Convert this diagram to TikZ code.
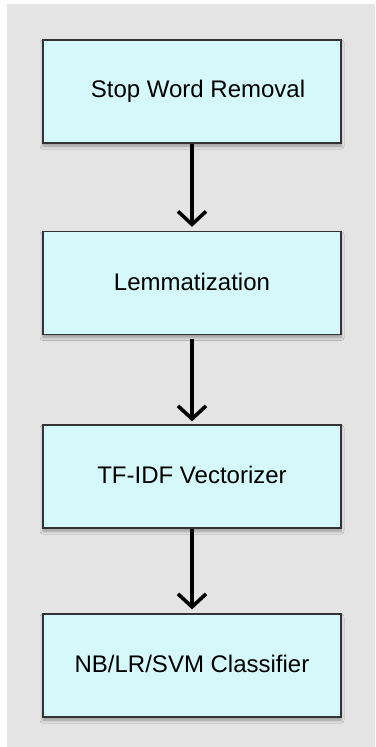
\documentclass[tikz,border=0pt]{standalone}
\usepackage{fontspec}
\setmainfont{Liberation Sans}
\usetikzlibrary{arrows.meta,shadows.blur}
\definecolor{panelgray}{HTML}{E4E4E4}
\definecolor{boxfill}{HTML}{D5F9FA}
\definecolor{boxline}{HTML}{333333}
\tikzset{
  stage/.style={draw=boxline, line width=1.3pt, fill=boxfill,
    minimum width=298pt, minimum height=103pt, inner sep=0pt,
    font=\fontsize{24}{28}\selectfont,
    blur shadow={shadow xshift=0pt, shadow yshift=-3pt, shadow blur steps=6,
      shadow blur radius=3pt, shadow opacity=35}},
  flow/.style={draw=black, line width=3.6pt,
    -{Straight Barb[length=13pt, width=28pt, line width=3.6pt]}}
}
\begin{document}
\begin{tikzpicture}[x=1pt, y=-1pt]
  \useasboundingbox (0,0) rectangle (375,747);
  \fill[white] (0,0) rectangle (375,747);
  \fill[panelgray] (7,4) rectangle (375,747);

  \node[stage] (stop)  at (192,91.5)  {\hspace{12pt}Stop Word Removal};
  \node[stage] (lemma) at (192,283)   {\raisebox{2.5pt}{Lemmatization}};
  \node[stage] (tfidf) at (192,476.5) {\raisebox{2.5pt}{TF-IDF Vectorizer}};
  \node[stage] (clf)   at (192,665.5) {\raisebox{3pt}{NB/LR/SVM Classifier}};

  \draw[flow, shorten >=4pt] (stop.south) -- (lemma.north);
  \draw[flow, shorten <=4pt, shorten >=3pt] (lemma.south) -- (tfidf.north);
  \draw[flow, shorten >=4pt] (tfidf.south) -- (clf.north);
\end{tikzpicture}
\end{document}
